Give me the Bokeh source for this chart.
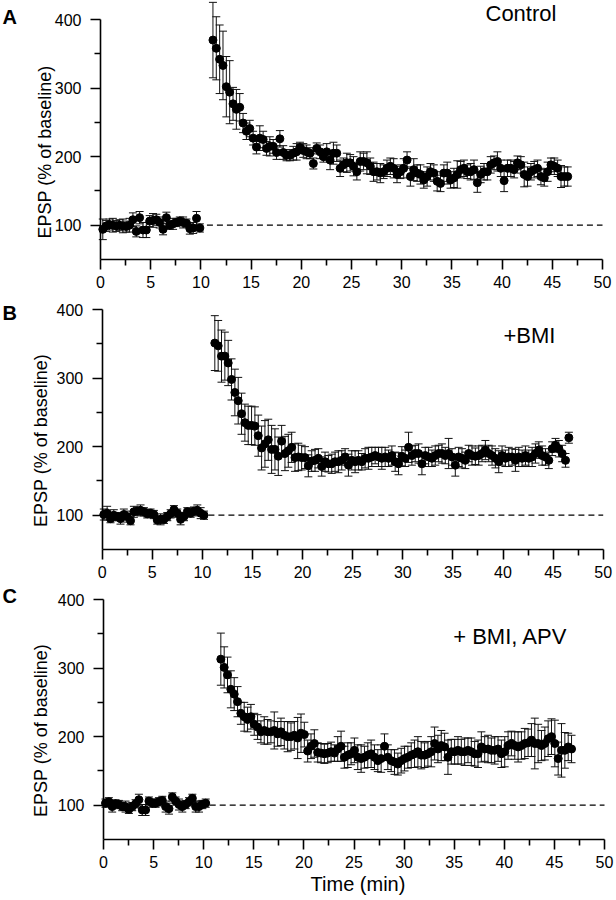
from math import pi
from bokeh.plotting import figure
from bokeh.models import ColumnDataSource, Range1d, FixedTicker, Whisker, TeeHead, Label
from bokeh.layouts import column
from bokeh.embed import file_html
from bokeh.resources import INLINE

# ---------------- data ----------------
SWEEP_MIN = 1 / 3          # one response every 20 s

# Panel A - Control
A_base_t0 = 0.23
A_base = [94, 99, 101, 100, 99, 100, 99, 98, 100, 108, 91, 111, 93, 93, 106,
          107, 108, 104, 94, 111, 100, 102, 104, 106, 104, 103, 95, 96, 110, 96]
A_base_err = [15, 8, 8, 10, 8, 8, 10, 8, 10, 10, 8, 9, 11, 11, 8,
              10, 8, 8, 8, 8, 6, 8, 6, 6, 8, 6, 8, 8, 10, 6]
A_post_t0 = 11.2
A_post = [370, 358, 342, 333, 302, 294, 277, 269, 272, 249, 237, 241, 227, 214, 227,
          225, 212, 215, 215, 206, 226, 206, 202, 202, 205, 207, 213, 209, 207, 205,
          190, 212, 207, 200,
          207, 195, 205, 205, 183, 188, 191, 191, 186, 178, 193, 193, 191, 186, 178,
          178, 176, 178, 183, 186, 183, 174, 178, 183, 195, 171, 181, 176, 174, 166,
          171, 178, 176, 164, 161, 176, 176, 166, 169, 174, 181, 183, 178, 178, 181,
          162, 174, 178, 178, 188, 191, 193, 183, 165, 183, 183, 181, 191, 188, 174,
          171, 178, 181, 183, 171, 169, 178, 188, 186, 183, 171, 171, 171]
A_post_err = [55, 46, 50, 50, 44, 46, 24, 29, 20, 14, 12, 12, 10, 10, 18,
              12, 10, 14, 10, 10, 12, 10, 8, 8, 10, 12, 8, 10, 10, 8,
              8, 8, 10, 8,
              12, 14, 16, 12, 12, 10, 14, 12, 14, 12, 14, 12, 16, 12, 14,
              12, 14, 10, 12, 12, 14, 12, 10, 14, 12, 14, 16, 12, 14, 12,
              14, 12, 12, 14, 12, 12, 16, 12, 14, 20, 12, 12, 10, 12, 14,
              14, 12, 12, 12, 12, 10, 14, 12, 16, 12, 12, 12, 10, 12, 18,
              14, 12, 12, 12, 12, 12, 14, 10, 12, 12, 16, 14, 14]

# Panel B - +BMI
B_base_t0 = 0.16
B_base = [101, 103, 95, 100, 98, 95, 101, 98, 92, 105, 106, 107, 105, 102, 103,
          101, 93, 94, 94, 98, 102, 108, 103, 94, 98, 105, 103, 106, 107, 103, 100]
B_base_err = [8, 10, 6, 8, 6, 8, 8, 8, 6, 8, 6, 8, 6, 6, 6,
              6, 6, 8, 6, 6, 6, 6, 6, 8, 6, 6, 6, 6, 8, 8, 6]
B_post_t0 = 11.24
B_post = [351, 347, 332, 332, 322, 298, 279, 267, 248, 235, 231, 231, 230, 216, 198,
          204, 210, 196, 196, 186, 208, 190, 194, 199, 184, 185, 184, 184, 172, 179,
          180, 183, 171, 178, 175, 175,
          178, 178, 180, 185, 173, 180, 178, 180, 178, 183, 183, 185, 187, 185, 183,
          185, 183, 187, 178, 175, 186, 183, 199, 187, 190, 190, 175, 187, 185, 183,
          187, 190, 190, 187, 190, 185, 173, 185, 183, 180, 190, 187, 186, 187, 190,
          195, 190, 187, 183, 178, 187, 183, 185, 185, 180, 185, 183, 187, 183, 185,
          190, 195, 187, 185, 180, 197, 202, 197, 190, 180, 213]
B_post_err = [40, 37, 38, 35, 33, 30, 34, 34, 30, 27, 28, 28, 28, 30, 32,
              34, 30, 35, 30, 28, 23, 25, 24, 22, 20, 20, 18, 16, 16, 15,
              16, 14, 14, 14, 12, 14,
              14, 16, 14, 12, 16, 14, 16, 14, 12, 14, 16, 14, 12, 14, 16,
              14, 12, 14, 14, 16, 14, 12, 22, 14, 12, 14, 16, 12, 14, 12,
              14, 12, 14, 12, 22, 12, 16, 14, 14, 12, 12, 14, 12, 14, 12,
              14, 12, 14, 14, 16, 14, 12, 14, 12, 16, 14, 12, 14, 12, 14,
              14, 12, 14, 12, 12, 10, 10, 12, 12, 10, 8]

# Panel C - + BMI, APV
C_base_t0 = 0.2
C_base = [103, 105, 98, 102, 101, 98, 98, 94, 98, 102, 108, 93, 93, 106, 103,
          103, 105, 107, 98, 95, 112, 106, 101, 98, 101, 105, 110, 98, 98, 101, 103]
C_base_err = [6, 6, 8, 6, 6, 6, 8, 6, 6, 6, 8, 8, 8, 6, 6,
              6, 6, 6, 8, 8, 6, 6, 8, 8, 6, 6, 6, 8, 8, 6, 6]
C_post_t0 = 11.71
C_post = [313, 301, 290, 269, 262, 251, 234, 229, 225, 229, 218, 214, 207, 209, 207,
          207, 209, 204, 207, 202, 200, 200, 202, 198, 205, 203, 179, 186, 190, 177,
          176, 175, 176, 178, 176,
          182, 186, 170, 173, 175, 180, 170, 168, 170, 173, 175, 170, 165, 168, 186,
          170, 165, 163, 160, 165, 168, 170, 173, 175, 178, 173, 173, 175, 178, 190,
          182, 187, 185, 170, 178, 178, 180, 178, 178, 180, 178, 175, 175, 185, 182,
          182, 180, 180, 182, 175, 178, 187, 190, 187, 185, 187, 190, 191, 195, 190,
          190, 187, 190, 197, 200, 190, 168, 180, 180, 185, 182]
C_post_err = [38, 30, 26, 27, 24, 22, 16, 21, 18, 18, 16, 18, 16, 20, 18,
              16, 27, 18, 20, 20, 22, 20, 20, 30, 28, 18, 16, 18, 20, 14,
              14, 14, 14, 14, 12,
              18, 22, 16, 18, 16, 18, 18, 20, 16, 18, 20, 18, 16, 20, 18,
              18, 16, 18, 16, 18, 18, 16, 18, 20, 22, 20, 18, 18, 22, 24,
              20, 22, 20, 25, 18, 18, 20, 18, 20, 18, 20, 18, 20, 22, 18,
              20, 18, 20, 18, 20, 22, 20, 18, 20, 22, 20, 22, 20, 24, 37,
              28, 22, 24, 26, 26, 34, 24, 39, 26, 20, 20]

x_ticks = [0, 5, 10, 15, 20, 25, 30, 35, 40, 45, 50]
x_minor = [2.5, 7.5, 12.5, 17.5, 22.5, 27.5, 32.5, 37.5, 42.5, 47.5]
y_ticks = [100, 200, 300, 400]
y_minor = [150, 250, 350]
X_MIN, X_MAX = 0, 50
Y_MIN, Y_MAX = 50, 400
BASELINE = 100
DASH_FROM = 10.6

FONT = "Liberation Sans"
Y_TITLE = "EPSP (% of baseline)"
X_TITLE = "Time (min)"
W = 616


def series(base_t0, base, base_err, post_t0, post, post_err):
    t = [base_t0 + i * SWEEP_MIN for i in range(len(base))] + \
        [post_t0 + i * SWEEP_MIN for i in range(len(post))]
    v = base + post
    e = base_err + post_err
    return ColumnDataSource(dict(t=t, v=v, lo=[a - b for a, b in zip(v, e)],
                                 hi=[a + b for a, b in zip(v, e)]))


def panel(letter, cond, data, height, frame, texts, xlabel=None):
    """frame = (x of t=0, x of t=50, y of 400, y of 50) in canvas pixels.
    The whole canvas is the plot frame; the axes are pinned at t=0 / EPSP=50."""
    fx0, fx1, fyt, fyb = frame
    sx = (fx1 - fx0) / (X_MAX - X_MIN)
    sy = (fyb - fyt) / (Y_MAX - Y_MIN)

    def dx(px):
        return X_MIN + (px - fx0) / sx

    def dy(py):
        return Y_MAX - (py - fyt) / sy

    p = figure(width=W, height=height,
               x_range=Range1d(dx(0), dx(W)), y_range=Range1d(dy(height), dy(0)),
               output_backend="svg", toolbar_location=None,
               min_border_left=0, min_border_right=0, min_border_top=0,
               min_border_bottom=0, background_fill_color="white",
               border_fill_color="white")
    p.outline_line_color = None
    p.xgrid.visible = False
    p.ygrid.visible = False

    p.xaxis.fixed_location = Y_MIN
    p.yaxis.fixed_location = X_MIN
    p.xaxis.bounds = (X_MIN, X_MAX)
    p.yaxis.bounds = (Y_MIN, Y_MAX)
    p.xaxis.ticker = FixedTicker(ticks=x_ticks, minor_ticks=x_minor)
    p.yaxis.ticker = FixedTicker(ticks=y_ticks, minor_ticks=y_minor)
    for ax in (p.xaxis, p.yaxis):
        ax.axis_line_width = 1.6
        ax.axis_line_color = "black"
        ax.major_tick_line_width = 1.6
        ax.minor_tick_line_width = 1.6
        ax.major_tick_line_color = "black"
        ax.minor_tick_line_color = "black"
        ax.major_tick_in = 0
        ax.minor_tick_in = 0
        ax.major_tick_out = 10
        ax.minor_tick_out = 6
        ax.major_label_text_font = FONT
        ax.major_label_text_font_size = "16px"
        ax.major_label_text_color = "black"
    p.xaxis.major_label_standoff = 6
    p.yaxis.major_label_standoff = 9

    # baseline reference
    p.line([DASH_FROM, X_MAX], [BASELINE, BASELINE], line_color="black",
           line_width=1.3, line_dash="6 4")

    w = Whisker(source=data, base="t", lower="lo", upper="hi", dimension="height",
                line_color="#111111", line_width=1,
                lower_head=TeeHead(size=8, line_color="#111111", line_width=1),
                upper_head=TeeHead(size=8, line_color="#111111", line_width=1))
    p.add_layout(w)
    p.scatter("t", "v", source=data, marker="circle", size=8,
              fill_color="black", line_color="black")

    (lx, lb), (cx, cb), (yx, yc) = texts[:3]
    p.add_layout(Label(x=dx(lx), y=dy(lb), text=letter, text_font=FONT,
                       text_font_style="bold", text_font_size="20px",
                       text_color="black", text_align="left",
                       text_baseline="alphabetic"))
    p.add_layout(Label(x=dx(cx), y=dy(cb), text=cond, text_font=FONT,
                       text_font_size="22px", text_color="black", text_align="left",
                       text_baseline="alphabetic"))
    p.add_layout(Label(x=dx(yx), y=dy(yc), text=Y_TITLE, angle=pi / 2,
                       text_font=FONT, text_font_size="18px", text_color="black",
                       text_align="center", text_baseline="alphabetic"))
    if xlabel:
        tx, tb = texts[3]
        p.add_layout(Label(x=dx(tx), y=dy(tb), text=xlabel, text_font=FONT,
                           text_font_size="20px", text_color="black",
                           text_align="center", text_baseline="alphabetic"))
    return p


srcA = series(A_base_t0, A_base, A_base_err, A_post_t0, A_post, A_post_err)
srcB = series(B_base_t0, B_base, B_base_err, B_post_t0, B_post, B_post_err)
srcC = series(C_base_t0, C_base, C_base_err, C_post_t0, C_post, C_post_err)

# canvases: A 0-294, B 294-584, C 584-900 (page pixels)
pA = panel("A", "Control", srcA, 294, (100, 602, 19, 259),
           [(2, 16), (485, 13), (44, 151.5)])
pB = panel("B", "+BMI", srcB, 290, (101.7, 602.7, 15, 255),
           [(2, 312 - 294), (503, 335 - 294), (40, 440 - 294)])
pC = panel("C", "+ BMI, APV", srcC, 316, (103, 604, 15, 255),
           [(2, 595 - 584), (452.7, 636 - 584), (40, 730 - 584), (357.5, 883 - 584)],
           xlabel=X_TITLE)

layout = column(pA, pB, pC, spacing=0)
open("out.html", "w").write(file_html(layout, INLINE))
